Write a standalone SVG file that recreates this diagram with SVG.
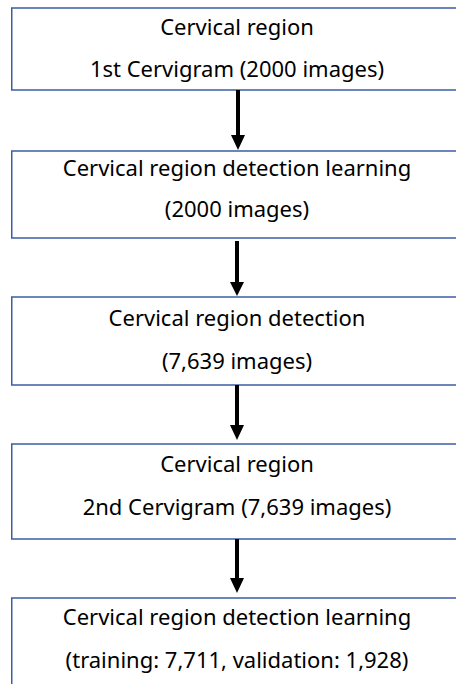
<svg xmlns="http://www.w3.org/2000/svg" width="456" height="684" viewBox="0 0 456 684">
  <defs>
    <style>
      .box { fill: #ffffff; stroke: #3b5ea6; stroke-width: 1.5; }
      .lbl { font-family: "Noto Sans", "Open Sans", sans-serif; font-size: 22px; fill: #000000; text-anchor: middle; }
      .conn { stroke: #000000; stroke-width: 4; fill: none; }
      .head { fill: #000000; }
    </style>
  </defs>
  <rect width="456" height="684" fill="#ffffff"/>

  <g id="node-first-cervigram">
    <rect class="box" x="11.75" y="8" width="460" height="82"/>
    <text class="lbl" x="237" y="35">Cervical region</text>
    <text class="lbl" x="237" y="77">1st Cervigram (2000 images)</text>
  </g>

  <g id="node-detection-learning-1">
    <rect class="box" x="11.75" y="151" width="460" height="87"/>
    <text class="lbl" x="237" y="176">Cervical region detection learning</text>
    <text class="lbl" x="237" y="217">(2000 images)</text>
  </g>

  <g id="node-detection">
    <rect class="box" x="11.75" y="297" width="460" height="88"/>
    <text class="lbl" x="237" y="326">Cervical region detection</text>
    <text class="lbl" x="237" y="369">(7,639 images)</text>
  </g>

  <g id="node-second-cervigram">
    <rect class="box" x="11.75" y="444" width="460" height="95"/>
    <text class="lbl" x="237" y="472">Cervical region</text>
    <text class="lbl" x="237" y="515">2nd Cervigram (7,639 images)</text>
  </g>

  <g id="node-detection-learning-2">
    <rect class="box" x="11.75" y="598" width="460" height="100"/>
    <text class="lbl" x="237" y="625">Cervical region detection learning</text>
    <text class="lbl" x="237" y="668">(training: 7,711, validation: 1,928)</text>
  </g>

  <g id="connectors">
    <line class="conn" x1="238" y1="90" x2="238" y2="136"/>
    <polygon class="head" points="231,135 245,135 238,150"/>
    <line class="conn" x1="237" y1="241" x2="237" y2="283"/>
    <polygon class="head" points="230,282 244,282 237,296"/>
    <line class="conn" x1="237" y1="385" x2="237" y2="426"/>
    <polygon class="head" points="230,425 244,425 237,440"/>
    <line class="conn" x1="237" y1="539" x2="237" y2="580"/>
    <polygon class="head" points="230,578 244,578 237,593"/>
  </g>
</svg>
